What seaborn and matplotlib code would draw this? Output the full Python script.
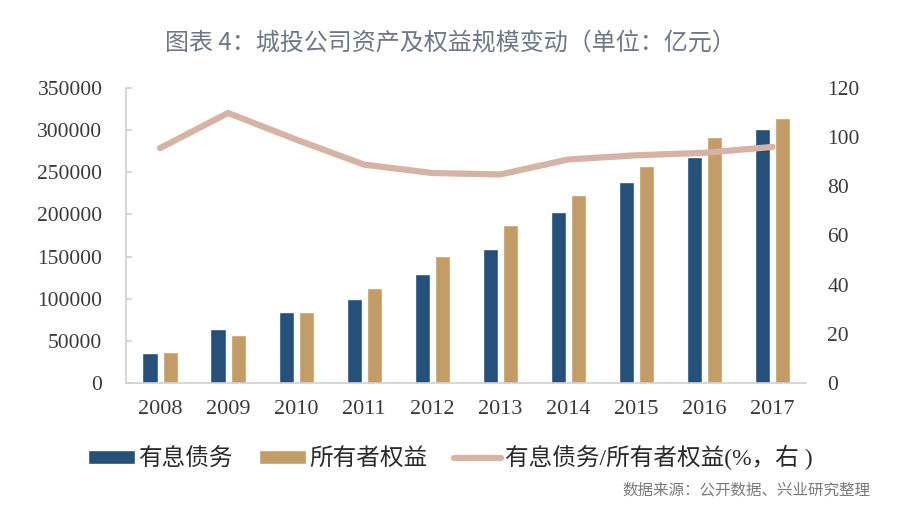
import numpy as np
import pandas as pd
import matplotlib
matplotlib.use("Agg")
import matplotlib.pyplot as plt
import seaborn as sns
from matplotlib.patches import Patch
from matplotlib.lines import Line2D

years = ["2008", "2009", "2010", "2011", "2012", "2013", "2014", "2015", "2016", "2017"]
debt = [35000, 64000, 84000, 100000, 129000, 159000, 203000, 238000, 268000, 301000]
equity = [37000, 57000, 84000, 113000, 151000, 187000, 223000, 257000, 292000, 314000]
ratio = [95.5, 109.8, 99.0, 88.8, 85.4, 84.8, 90.9, 92.6, 93.6, 96.0]

series_names = ["有息债务", "所有者权益"]
ratio_name = "有息债务/所有者权益(%，右 )"
title = "图表 4：城投公司资产及权益规模变动（单位：亿元）"
source = "数据来源：公开数据、兴业研究整理"

blue = "#25507a"
gold = "#c49c65"
pink = "#d6b3a4"

sns.set_theme(style="white")
plt.rcParams["font.family"] = ["Liberation Serif", "Noto Sans CJK SC"]

df = pd.DataFrame({
    "year": years * 2,
    "value": debt + equity,
    "series": [series_names[0]] * len(years) + [series_names[1]] * len(years),
})

fig = plt.figure(figsize=(9, 5.07), dpi=100)
ax = fig.add_axes([0.14, 0.2446, 0.756, 0.582])

sns.barplot(data=df, x="year", y="value", hue="series", order=years,
            hue_order=series_names, palette=[blue, gold], width=0.59, gap=0.25,
            saturation=1, ax=ax, legend=False)
ax.set_xlim(-0.5, len(years) - 0.5)
ax.set_ylim(0, 350000)
ax.set_yticks(np.arange(0, 350001, 50000))
ax.set_yticklabels([str(v) for v in range(0, 350001, 50000)])
ax.set_xlabel("")
ax.set_ylabel("")

ax2 = ax.twinx()
sns.lineplot(x=np.arange(len(years)), y=ratio, color=pink, linewidth=4.5,
             ax=ax2, solid_capstyle="round")
ax2.set_ylim(0, 120)
ax2.set_yticks(np.arange(0, 121, 20))
ax2.set_xlim(-0.5, len(years) - 0.5)

grey = "#cfcfcf"
for a in (ax, ax2):
    for s in a.spines.values():
        s.set_visible(False)
ax.spines["left"].set_visible(True)
ax.spines["bottom"].set_visible(True)
ax.spines["left"].set_color(grey)
ax.spines["bottom"].set_color(grey)
ax.spines["left"].set_linewidth(1.2)
ax.spines["bottom"].set_linewidth(1.2)

ax.set_xticks(np.arange(-0.5, len(years), 1), minor=True)
ax.tick_params(axis="x", which="major", length=0, pad=12, labelsize=16, labelcolor="#3a3a3a")
ax.tick_params(axis="x", which="minor", direction="in", length=5, color=grey, width=1.2)
ax.tick_params(axis="y", direction="in", length=4, color=grey, width=1.2, left=True,
               pad=17, labelsize=15.5, labelcolor="#3a3a3a")
ax2.tick_params(axis="y", length=0, pad=15, labelsize=15.5, labelcolor="#3a3a3a")

fig.text(0.5, 0.915, title, ha="center", va="center", fontsize=17.3,
         color="#6d7886", family=["Noto Sans CJK SC"])

handles = [Patch(facecolor=blue), Patch(facecolor=gold),
           Line2D([0], [0], color=pink, linewidth=4.5)]
fig.legend(handles, series_names + [ratio_name], loc="center", ncol=3,
           bbox_to_anchor=(0.5, 0.097), frameon=False, fontsize=17,
           handlelength=2.0, handleheight=0.5, handletextpad=0.15, columnspacing=1.1,
           labelcolor="#2a2a2a")

fig.text(0.967, 0.034, source, ha="right", va="center", fontsize=11.2,
         color="#7a7a7a", family=["Noto Sans CJK SC"])

fig.savefig("out.png", dpi=100)
